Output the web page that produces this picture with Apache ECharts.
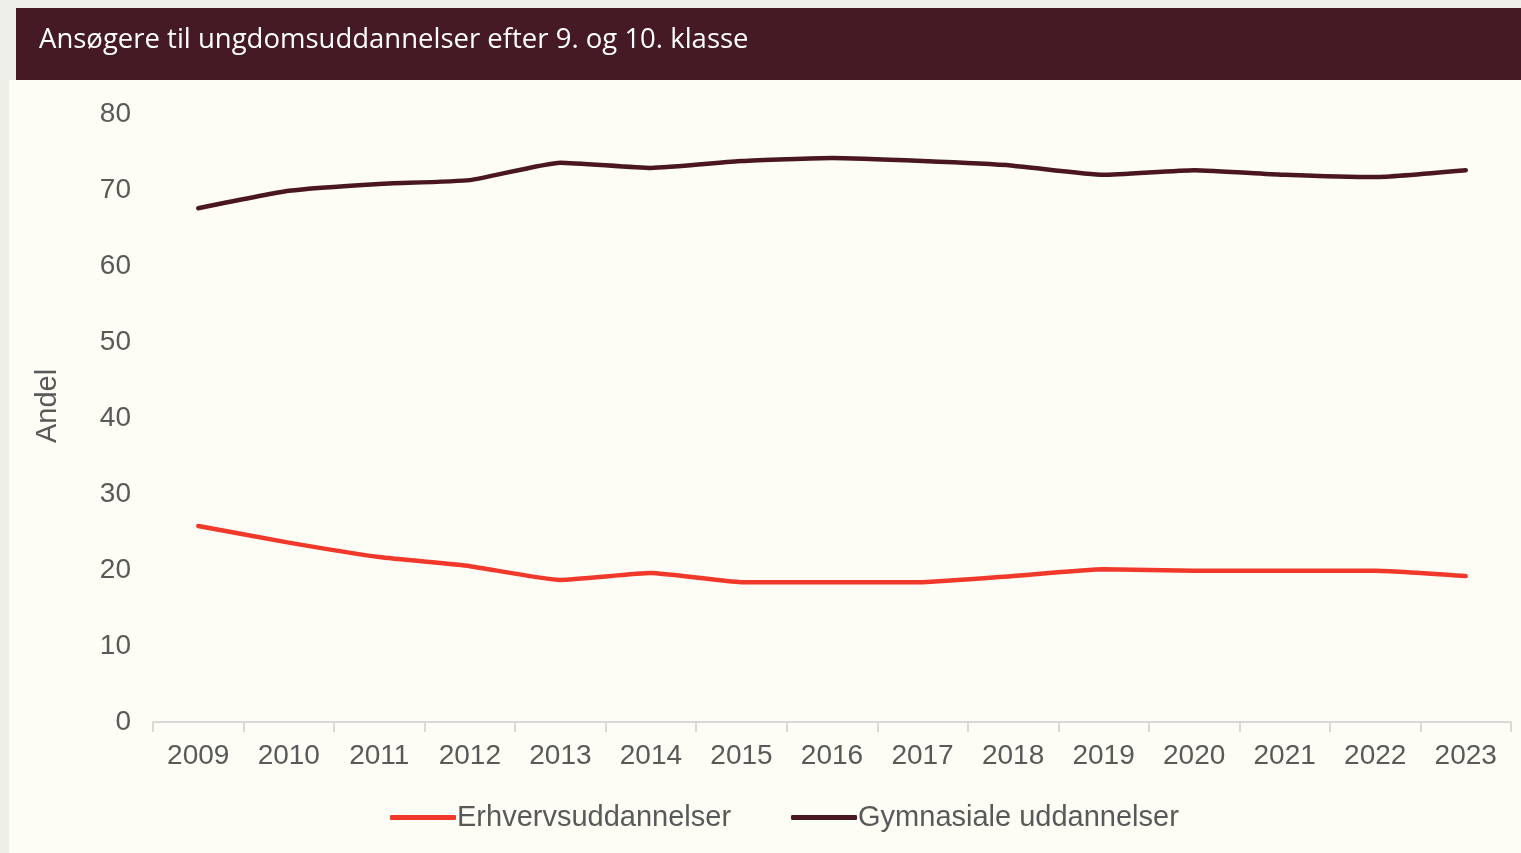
<!DOCTYPE html>
<html>
<head>
<meta charset="utf-8">
<script src="https://cdn.jsdelivr.net/npm/echarts@6/dist/echarts.min.js"></script>
<style>
html,body{margin:0;padding:0;background:#efefea;}
#c{width:1521px;height:853px;}
</style>
</head>
<body>
<div id="c"></div>
<script>
const categories = ['2009','2010','2011','2012','2013','2014','2015','2016','2017','2018','2019','2020','2021','2022','2023'];
const erhverv = [25.8, 23.6, 21.7, 20.5, 18.7, 19.6, 18.4, 18.4, 18.4, 19.2, 20.1, 19.9, 19.9, 19.9, 19.2];
const gymnasiale = [67.6, 69.9, 70.8, 71.3, 73.6, 72.9, 73.8, 74.2, 73.8, 73.2, 72.0, 72.6, 72.0, 71.7, 72.6];
const seriesNames = ['Erhvervsuddannelser', 'Gymnasiale uddannelser'];
const titleText = 'Ansøgere til ungdomsuddannelser efter 9. og 10. klasse';
const yAxisTitle = 'Andel';
const yTicks = [0, 10, 20, 30, 40, 50, 60, 70, 80];

const chart = echarts.init(document.getElementById('c'), null, {renderer: 'canvas'});
const font = '"Liberation Sans", Arial, sans-serif';
chart.setOption({
  backgroundColor: 'transparent',
  animation: false,
  graphic: [
    {type: 'rect', z: -10, shape: {x: 9, y: 80, width: 1512, height: 773}, style: {fill: '#fdfdf5'}},
    {type: 'rect', z: -10, shape: {x: 16, y: 8, width: 1505, height: 72}, style: {fill: '#461a25'}},
    {type: 'text', x: 48, y: 406, rotation: Math.PI / 2,
     style: {text: yAxisTitle, fill: '#595959', font: '29px "Liberation Sans", Arial, sans-serif',
             textAlign: 'center', textVerticalAlign: 'middle'}}
  ],
  title: {
    text: titleText, left: 34, top: 21,
    textStyle: {color: '#ffffff', fontSize: 27.5, fontWeight: 'normal', fontFamily: '"Open Sans", sans-serif'}
  },
  legend: {
    data: seriesNames, bottom: 16, left: 385,
    itemWidth: 66, itemHeight: 5, itemGap: 60,
    icon: 'roundRect',
    textStyle: {color: '#595959', fontSize: 29, fontFamily: font, padding: [0, 0, 0, -4]}
  },
  grid: {left: 153, right: 10, top: 114, bottom: 131},
  xAxis: {
    type: 'category', data: categories, boundaryGap: true,
    axisLine: {lineStyle: {color: '#d9d9d9', width: 2}},
    axisTick: {show: true, length: 10, lineStyle: {color: '#d9d9d9', width: 2}},
    axisLabel: {color: '#595959', fontSize: 28, fontFamily: font, margin: 20}
  },
  yAxis: {
    type: 'value', min: yTicks[0], max: yTicks[yTicks.length - 1], interval: 10,
    axisLine: {show: false}, axisTick: {show: false}, splitLine: {show: false},
    axisLabel: {color: '#595959', fontSize: 28, fontFamily: font, margin: 22}
  },
  series: [
    {name: seriesNames[0], type: 'line', data: erhverv, smooth: 0.15, symbol: 'none',
     lineStyle: {color: '#f0392b', width: 4.5, cap: 'round'}, itemStyle: {color: '#f0392b'}},
    {name: seriesNames[1], type: 'line', data: gymnasiale, smooth: 0.15, symbol: 'none',
     lineStyle: {color: '#4a1621', width: 4.5, cap: 'round'}, itemStyle: {color: '#4a1621'}}
  ]
});
</script>
</body>
</html>
